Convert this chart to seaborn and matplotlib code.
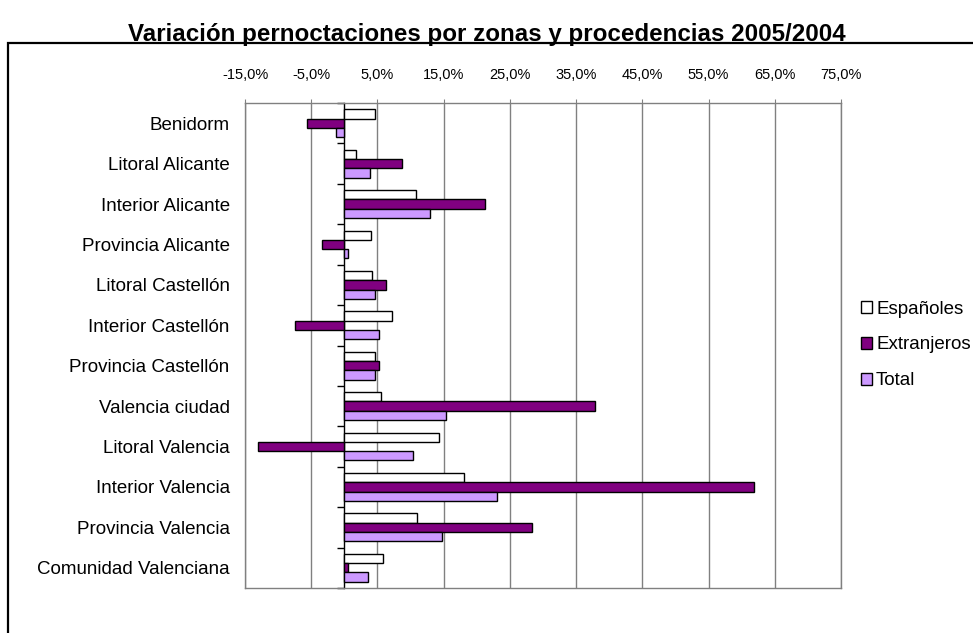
import matplotlib as mpl
mpl.use('agg')
import matplotlib.pyplot as plt
import matplotlib.patches as mpatches
from matplotlib.ticker import FuncFormatter
import pandas as pd
import seaborn as sns

# data (variación %)
zonas = ['Benidorm', 'Litoral Alicante', 'Interior Alicante', 'Provincia Alicante',
         'Litoral Castellón', 'Interior Castellón', 'Provincia Castellón',
         'Valencia ciudad', 'Litoral Valencia', 'Interior Valencia',
         'Provincia Valencia', 'Comunidad Valenciana']
espanoles = [4.7, 1.8, 10.8, 4.0, 4.2, 7.2, 4.7, 5.5, 14.3, 18.0, 11.0, 5.8]
extranjeros = [-5.7, 8.7, 21.3, -3.3, 6.3, -7.5, 5.2, 37.8, -13.1, 61.9, 28.4, 0.6]
total = [-1.2, 3.9, 12.9, 0.5, 4.7, 5.2, 4.7, 15.4, 10.3, 23.1, 14.8, 3.6]
series = ['Españoles', 'Extranjeros', 'Total']
colores = ['#FFFFFF', '#800080', '#CC99FF']
xticks = [-15, -5, 5, 15, 25, 35, 45, 55, 65, 75]

df = pd.DataFrame({
    'zona': zonas * 3,
    'procedencia': [s for s in series for _ in zonas],
    'valor': espanoles + extranjeros + total,
})

sns.set_style('white')
plt.rcParams['font.family'] = ['Liberation Sans', 'DejaVu Sans']
plt.rcParams['text.color'] = 'black'
plt.rcParams['xtick.labelcolor'] = 'black'
plt.rcParams['ytick.labelcolor'] = 'black'

fig = plt.figure(figsize=(9.73, 6.33), dpi=100)
ax = fig.add_axes([245 / 973, 45 / 633, 596 / 973, 485 / 633])

sns.barplot(data=df, x='valor', y='zona', hue='procedencia', hue_order=series,
            order=zonas, orient='h', palette=colores, width=0.69, errorbar=None,
            edgecolor='black', linewidth=1.0, saturation=1, ax=ax)

handles, labels = ax.get_legend_handles_labels()
ax.get_legend().remove()

# x axis on top
ax.set_xlim(-15, 75)
ax.set_xticks(xticks)
ax.xaxis.set_major_formatter(FuncFormatter(lambda v, _: f'{v:.1f}'.replace('.', ',') + '%'))
ax.xaxis.tick_top()
ax.tick_params(axis='x', length=3, color='#808080', pad=12, labelsize=10.5)
ax.grid(axis='x', color='#808080', linewidth=1)
ax.grid(axis='y', visible=False)
ax.set_axisbelow(True)

ax.tick_params(axis='y', length=0, pad=11, labelsize=13.5)
ax.set_xlabel('')
ax.set_ylabel('')
for sp in ax.spines.values():
    sp.set_color('#808080')
    sp.set_linewidth(1)

# vertical axis at 0 with category ticks
sec = ax.secondary_yaxis(15 / 90)
sec.set_yticks([i - 0.5 for i in range(len(zonas) + 1)])
sec.set_yticklabels([])
sec.tick_params(length=5, width=1, color='black')
sec.spines['left'].set_color('black')
sec.spines['left'].set_linewidth(1)

fig.legend(handles, labels, loc='center left', bbox_to_anchor=(861 / 973, 0.455),
           frameon=False, fontsize=13.5, handlelength=0.6, handleheight=0.6,
           handletextpad=0.2, labelspacing=1.0, borderpad=0, borderaxespad=0)

fig.text(486.5 / 973, 1 - 34 / 633, 'Variación pernoctaciones por zonas y procedencias 2005/2004',
         ha='center', va='center', fontsize=17.4, fontweight='bold', color='black')

fig.patches.append(mpatches.Rectangle((8 / 973, -0.1), 1.1, 1.1 - 43 / 633,
                                      transform=fig.transFigure, fill=False,
                                      edgecolor='black', linewidth=1.6))

plt.savefig('out.png', dpi=100)
